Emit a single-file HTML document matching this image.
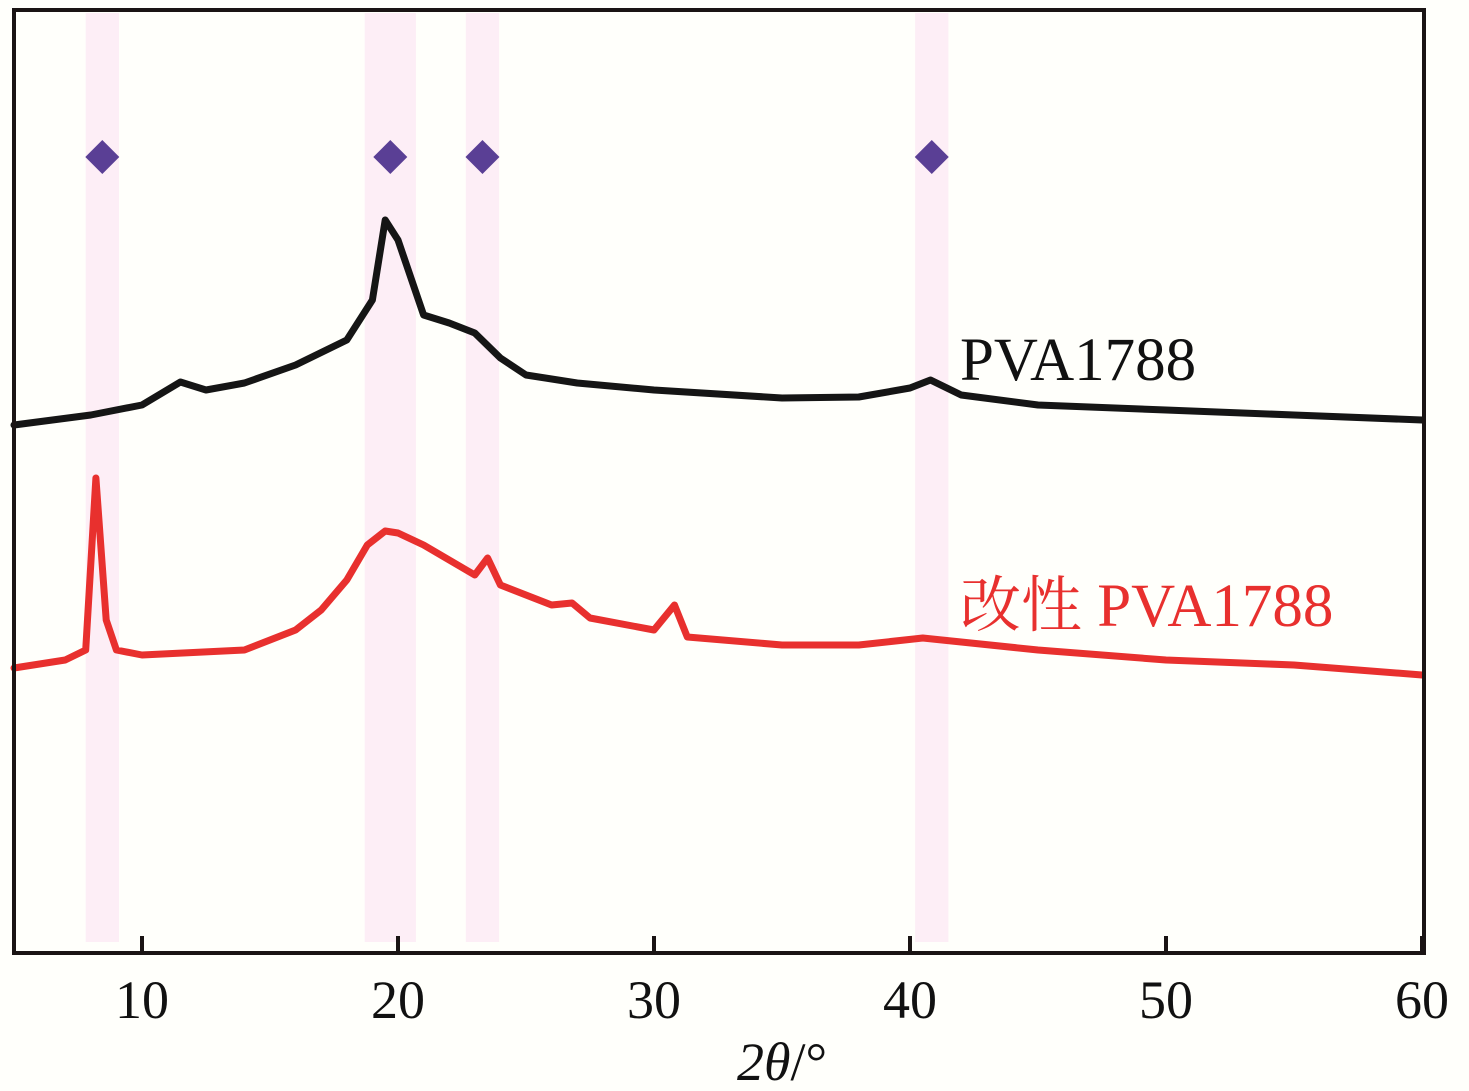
<!DOCTYPE html>
<html><head><meta charset="utf-8"><style>
html,body{margin:0;padding:0;background:#fffffb;}
svg{display:block;font-family:"Liberation Serif","Noto Serif CJK SC",serif;}
</style></head><body>
<svg id="chart" width="1469" height="1091">
<rect x="0" y="0" width="1469" height="1091" fill="#fffffb"/>
<g id="bands"></g>
<g id="diamonds"></g>
<g id="series"></g>
<g id="axes"></g>
<text x="960" y="380" font-size="61" fill="#111">PVA1788</text>
<text x="960" y="626" font-size="61" fill="#e8302e">改性 PVA1788</text>
<text x="737" y="1080" font-size="54" fill="#111"><tspan font-style="italic">2θ</tspan>/°</text>
</svg>
<script>
const xTicks=[10,20,30,40,50,60];
const peakPositions=[8.45,19.7,23.3,40.85];
const bandWidths=[1.3,2.0,1.3,1.3];
const blackX=[5,8,10,11.5,12.5,14,16,18,19,19.5,20,21,22,23,24,25,27,30,35,38,40,40.8,42,45,50,55,60];
const blackY=[528,538,548,571,563,570,588,613,653,733,713,638,630,620,595,578,570,563,555,556,565,573,558,548,543,538,533];
const redX=[5,7,7.8,8.2,8.6,9,10,14,16,17,18,18.8,19.5,20,21,22,23,23.5,24,26,26.8,27.5,30,30.8,31.3,35,38,40.5,42,45,50,55,60];
const redY=[285,293,303,475,333,303,298,303,323,343,373,408,422,420,408,393,378,395,368,348,350,335,323,348,316,308,308,315,311,303,293,288,278];
const X0=5,X1=60,PX0=14,PX1=1422,TOP=10,BOT=953;
function xs(v){return PX0+(v-X0)*(PX1-PX0)/(X1-X0);}
function ys(v){return BOT-v;}
const NS="http://www.w3.org/2000/svg";
function mk(t,a,p){const e=document.createElementNS(NS,t);for(const k in a)e.setAttribute(k,a[k]);p.appendChild(e);return e;}
const bands=document.getElementById('bands'),dia=document.getElementById('diamonds');
peakPositions.forEach((p,i)=>{
 const b=mk('rect',{x:xs(p-bandWidths[i]/2),y:TOP+3,width:xs(p+bandWidths[i]/2)-xs(p-bandWidths[i]/2),height:BOT-TOP-14,fill:'#fdeef6'},bands);
 
 
 const cx=xs(p),cy=157,r=17;
 const d=mk('polygon',{points:`${cx},${cy-r} ${cx+r},${cy} ${cx},${cy+r} ${cx-r},${cy}`,fill:'#5a3f95'},dia);
 
 
});
const ser=document.getElementById('series');
function line(xa,ya,col,name){
 const pts=xa.map((x,i)=>xs(x).toFixed(1)+','+ys(ya[i]).toFixed(1)).join(' ');
 const l=mk('polyline',{points:pts,fill:'none',stroke:col,'stroke-width':7,'stroke-linejoin':'round','stroke-linecap':'round'},ser);
 
 
}
line(blackX,blackY,'#151515','series-pva1788');
line(redX,redY,'#e8302e','series-modified-pva1788');
const ax=document.getElementById('axes');
const fr=mk('rect',{x:14,y:TOP,width:PX1+2-14,height:BOT-TOP,fill:'none',stroke:'#1a1414','stroke-width':4},ax);


xTicks.forEach(t=>{
 const tk=mk('line',{x1:xs(t),x2:xs(t),y1:BOT,y2:BOT-17,stroke:'#1a1414','stroke-width':4},ax);
 
 
 const tl=mk('text',{x:xs(t),y:1018,'font-size':54,'text-anchor':'middle',fill:'#111'},ax);
 tl.textContent=t;
 
 
});
</script>
</body></html>
